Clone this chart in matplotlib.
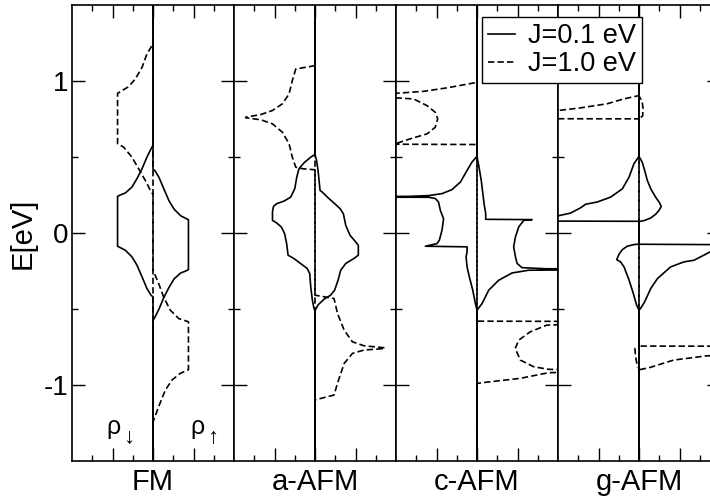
import matplotlib
matplotlib.use("Agg")
import matplotlib.pyplot as plt
from matplotlib.lines import Line2D

plt.rcParams['font.family'] = ['Liberation Sans', 'DejaVu Sans']
plt.rcParams['axes.unicode_minus'] = False

# Paneles (orden izquierda -> derecha)
paneles = ["FM", "a-AFM", "c-AFM", "g-AFM"]

# DOS: energia (eV) y densidad (unidades arb.)
# "dn" = espin abajo (se dibuja a la izquierda), "up" = espin arriba
# "1" = J=0.1 eV (linea continua), "10" = J=1.0 eV (linea a trazos)

# --- FM ---
fm_e_dn1 = [1.6, 0.576, 0.553, 0.499, 0.423, 0.358, 0.302, 0.263, 0.25, 0.241, -0.087, -0.096,
            -0.113, -0.157, -0.212, -0.289, -0.365, -0.409, -0.42, -1.6]
fm_dn1 = [0, 0, 0.1, 0.3, 0.54, 0.79, 1.04, 1.37, 1.62, 1.75, 1.75, 1.62,
          1.37, 1.04, 0.79, 0.54, 0.3, 0.1, 0, 0]
fm_e_up1 = [1.6, 0.42, 0.409, 0.365, 0.289, 0.212, 0.157, 0.113, 0.096, 0.087, -0.241, -0.25,
            -0.263, -0.302, -0.358, -0.423, -0.499, -0.553, -0.576, -1.6]
fm_up1 = [0, 0, 0.1, 0.3, 0.54, 0.79, 1.04, 1.37, 1.62, 1.75, 1.75, 1.62,
          1.37, 1.04, 0.79, 0.54, 0.3, 0.1, 0, 0]
fm_e_dn10 = [1.6, 1.244, 1.178, 1.09, 1.014, 0.963, 0.937, 0.919, 0.587, 0.565, 0.499,
             0.423, 0.346, 0.28, 0.255, -1.6]
fm_dn10 = [0, 0, 0.3, 0.54, 0.87, 1.2, 1.53, 1.75, 1.75, 1.45, 1.04,
           0.71, 0.38, 0.13, 0, 0]
fm_e_up10 = [1.6, -0.245, -0.332, -0.42, -0.507, -0.563, -0.584, -0.90, -0.923, -0.967,
             -1.033, -1.142, -1.244, -1.6]
fm_up10 = [0, 0, 0.28, 0.52, 0.85, 1.27, 1.75, 1.75, 1.35, 0.94,
           0.61, 0.28, 0, 0]

# --- a-AFM ---
aafm_e_dn1 = [1.6, 0.517, 0.499, 0.462, 0.423, 0.368, 0.291, 0.236, 0.21, 0.193, 0.175, 0.138,
              0.083, 0.066, 0.039, -0.004, -0.07, -0.146, -0.168, -0.201, -0.234, -0.267,
              -0.355, -0.442, -0.496, -0.512, -1.6]
aafm_dn1 = [0, 0, 0.21, 0.54, 0.79, 0.9, 1.0, 1.2, 1.53, 1.89, 2.05, 2.1,
            2.1, 1.89, 1.66, 1.5, 1.4, 1.33, 1.04, 0.71, 0.38, 0.26,
            0.21, 0.13, 0.05, 0, 0]
aafm_e_up1 = [1.6, 0.517, 0.477, 0.411, 0.346, 0.28, 0.269, 0.236, 0.197, 0.16, 0.127, 0.05,
              -0.015, -0.059, -0.081, -0.146, -0.168, -0.2, -0.245, -0.31, -0.376, -0.409,
              -0.435, -0.473, -0.512, -1.6]
aafm_up1 = [0, 0, 0.08, 0.15, 0.2, 0.25, 0.36, 0.61, 0.94, 1.24, 1.4, 1.52,
            1.73, 2.01, 2.14, 2.14, 1.92, 1.52, 1.27, 1.14, 0.97, 0.77,
            0.45, 0.15, 0, 0]
aafm_e_dn10 = [1.6, 1.101, 1.079, 1.003, 0.915, 0.85, 0.806, 0.779, 0.762, 0.758, 0.745,
               0.718, 0.663, 0.587, 0.499, 0.433, 0.423, 0.416, -1.6]
aafm_dn10 = [0, 0, 0.95, 1.12, 1.28, 1.61, 2.1, 2.68, 3.42, 3.42, 2.68,
             2.1, 1.61, 1.28, 1.12, 0.95, 0.62, 0, 0]
aafm_e_up10 = [1.6, -0.409, -0.431, -0.529, -0.639, -0.716, -0.742, -0.755, -0.76, -0.77,
               -0.792, -0.858, -0.989, -1.066, -1.098, -1.6]
aafm_up10 = [0, 0, 0.94, 1.11, 1.44, 1.85, 2.42, 3.44, 3.44, 2.42,
             1.85, 1.44, 1.11, 0.94, 0, 0]

# --- c-AFM ---
cafm_e_dn1 = [1.6, 0.504, 0.466, 0.412, 0.335, 0.285, 0.259, 0.246, 0.241, 0.240, 0.236, 0.235,
              0.227, 0.204, 0.149, 0.093, 0.018, -0.048, -0.07, -0.087, -0.091, -0.124,
              -0.157, -0.223, -0.288, -0.376, -0.464, -0.507, -1.6]
cafm_dn1 = [0, 0, 0.25, 0.49, 0.82, 1.24, 1.73, 2.39, 3.38, 6, 6, 2.39,
            2.06, 1.9, 1.81, 1.65, 1.73, 1.86, 1.98, 2.55, 0.49, 0.49,
            0.54, 0.49, 0.38, 0.21, 0.08, 0, 0]
cafm_e_up1 = [1.6, 0.504, 0.433, 0.346, 0.236, 0.192, 0.127, 0.09, 0.088, 0.083, 0.04, -0.025,
              -0.091, -0.157, -0.2, -0.228, -0.235, -0.237, -0.241, -0.245, -0.263, -0.311,
              -0.376, -0.464, -0.507, -1.6]
cafm_up1 = [0, 0, 0.1, 0.21, 0.31, 0.35, 0.43, 0.43, 2.72, 2.31, 2.06, 1.9,
            1.81, 1.9, 1.98, 2.22, 3.38, 6, 6, 2.55, 1.73, 1.07,
            0.58, 0.25, 0, 0]
cafm_e_dn10 = [1.6, 0.991, 0.955, 0.932, 0.919, 0.912, 0.905, 0.882, 0.838, 0.794, 0.751,
               0.696, 0.652, 0.62, 0.591, 0.585, 0.582, -1.6]
cafm_dn10 = [0, 0, 1.48, 2.63, 4.0, 6, 6, 3.13, 2.47, 2.06, 1.94,
             2.06, 2.47, 3.29, 3.95, 6, 0, 0]
cafm_e_up10 = [1.6, -0.58, -0.582, -0.595, -0.606, -0.65, -0.705, -0.759, -0.836, -0.88,
               -0.897, -0.905, -0.912, -0.919, -0.956, -0.985, -0.99, -1.6]
cafm_up10 = [0, 0, 6, 6, 3.45, 2.63, 2.06, 1.89, 2.14, 2.8,
             3.54, 6, 6, 3.54, 2.14, 0.25, 0, 0]

# --- g-AFM ---
gafm_e_dn1 = [1.6, 0.504, 0.456, 0.368, 0.291, 0.236, 0.204, 0.189, 0.166, 0.131, 0.112, 0.095,
              0.079, 0.077, -0.074, -0.076, -0.087, -0.109, -0.14, -0.175, -0.19, -0.223,
              -0.31, -0.398, -0.474, -0.507, -1.6]
gafm_dn1 = [0, 0, 0.25, 0.49, 0.82, 1.4, 2.06, 2.64, 2.88, 3.38, 4.03, 6,
            6, 0, 0, 0.25, 0.58, 0.82, 0.99, 1.1, 0.91, 0.74,
            0.49, 0.28, 0.12, 0, 0]
gafm_e_up1 = [1.6, 0.504, 0.466, 0.411, 0.346, 0.291, 0.236, 0.204, 0.175, 0.149, 0.123, 0.099,
              0.083, 0.075, -0.074, -0.078, -0.095, -0.11, -0.125, -0.135, -0.179, -0.19,
              -0.223, -0.3, -0.365, -0.453, -0.496, -0.507, -1.6]
gafm_up1 = [0, 0, 0.16, 0.28, 0.41, 0.58, 0.82, 0.99, 1.1, 0.99, 0.82, 0.58,
            0.28, 0, 0, 6, 6, 4.0, 3.5, 3.36, 2.72, 2.22,
            1.56, 0.91, 0.58, 0.28, 0.08, 0, 0]
gafm_e_dn10 = [1.6, 0.904, 0.882, 0.85, 0.823, 0.806, 0.79, 0.752, 0.751, -0.755, -0.76,
               -0.80, -0.85, -0.897, -1.6]
gafm_dn10 = [0, 0, 0.76, 1.58, 2.9, 3.97, 6, 6, 0, 0, 0.2,
             0.18, 0.12, 0, 0]
gafm_e_up10 = [1.6, 0.9, 0.87, 0.82, 0.77, 0.752, -0.744, -0.745, -0.80, -0.808, -0.836,
               -0.884, -0.9, -1.6]
gafm_up10 = [0, 0, 0.15, 0.2, 0.18, 0, 0, 6, 6, 3.36, 1.71,
             0.56, 0, 0]

datos = [
    (fm_e_dn1, fm_dn1, fm_e_up1, fm_up1, fm_e_dn10, fm_dn10, fm_e_up10, fm_up10),
    (aafm_e_dn1, aafm_dn1, aafm_e_up1, aafm_up1, aafm_e_dn10, aafm_dn10, aafm_e_up10, aafm_up10),
    (cafm_e_dn1, cafm_dn1, cafm_e_up1, cafm_up1, cafm_e_dn10, cafm_dn10, cafm_e_up10, cafm_up10),
    (gafm_e_dn1, gafm_dn1, gafm_e_up1, gafm_up1, gafm_e_dn10, gafm_dn10, gafm_e_up10, gafm_up10),
]

etiquetas_leyenda = ["J=0.1 eV", "J=1.0 eV"]

LW = 1.2
TRAZOS = (0, (3.8, 1.9))

fig = plt.figure(figsize=(7.1, 4.97), dpi=100)

# Geometria en pixeles (figura 710x497)
izq, abajo, arriba, ancho = 72, 461, 5, 162
W, H = 710.0, 497.0

ejes = []
for i, nombre in enumerate(paneles):
    ax = fig.add_axes([(izq + i * ancho) / W, (H - abajo) / H, ancho / W, (abajo - arriba) / H])
    e_dn1, dn1, e_up1, up1, e_dn10, dn10, e_up10, up10 = datos[i]

    # J=1.0 eV a trazos (primero), J=0.1 eV continua
    ax.plot([-v for v in dn10], e_dn10, color='black', lw=LW, linestyle=TRAZOS)
    ax.plot(up10, e_up10, color='black', lw=LW, linestyle=TRAZOS)
    ax.plot([-v for v in dn1], e_dn1, color='black', lw=LW)
    ax.plot(up1, e_up1, color='black', lw=LW)

    ax.set_xlim(-4, 4)
    ax.set_ylim(-1.5, 1.5)
    ax.set_xticks([-2, 0, 2])
    ax.set_xticks([-3, -1, 1, 3], minor=True)
    ax.set_xticklabels([])
    ax.set_yticks([-1, 0, 1])
    ax.set_yticks([-0.5, 0.5], minor=True)
    ax.tick_params(which='both', direction='in', top=True, right=True, width=1.0)
    ax.tick_params(which='major', length=9.3, pad=2.5, labelsize=20)
    ax.tick_params(which='minor', length=4.5)
    if i > 0:
        ax.set_yticklabels([])
    for s in ax.spines.values():
        s.set_linewidth(1.2)

    ax.text(0.5, (abajo - 490) / (abajo - arriba), nombre, transform=ax.transAxes,
            ha='center', va='baseline', fontsize=21)
    ejes.append(ax)

# rho con flechas en el panel FM
ejes[0].text(-1.95, -1.32, "ρ", ha='center', va='baseline', fontsize=18)
ejes[0].text(-1.2, -1.38, "↓", ha='center', va='baseline', fontsize=16)
ejes[0].text(2.2, -1.32, "ρ", ha='center', va='baseline', fontsize=18)
ejes[0].text(2.95, -1.38, "↑", ha='center', va='baseline', fontsize=16)

fig.text(22.5 / W, 1 - 233 / H, "E[eV]", rotation=90, ha='center', va='center', fontsize=21)

# Leyenda
manijas = [Line2D([], [], color='black', lw=LW),
           Line2D([], [], color='black', lw=LW, linestyle=TRAZOS)]
leg = fig.legend(manijas, etiquetas_leyenda, loc='upper left',
                 bbox_to_anchor=(481.7 / W, 1 - 17.3 / H), bbox_transform=fig.transFigure,
                 fontsize=19.5, frameon=True, fancybox=False, framealpha=1,
                 edgecolor='black', borderpad=0.22, labelspacing=0.08,
                 handlelength=1.0, handletextpad=0.5, borderaxespad=0)
leg.get_frame().set_linewidth(1.0)

fig.savefig("out.png", dpi=100)
